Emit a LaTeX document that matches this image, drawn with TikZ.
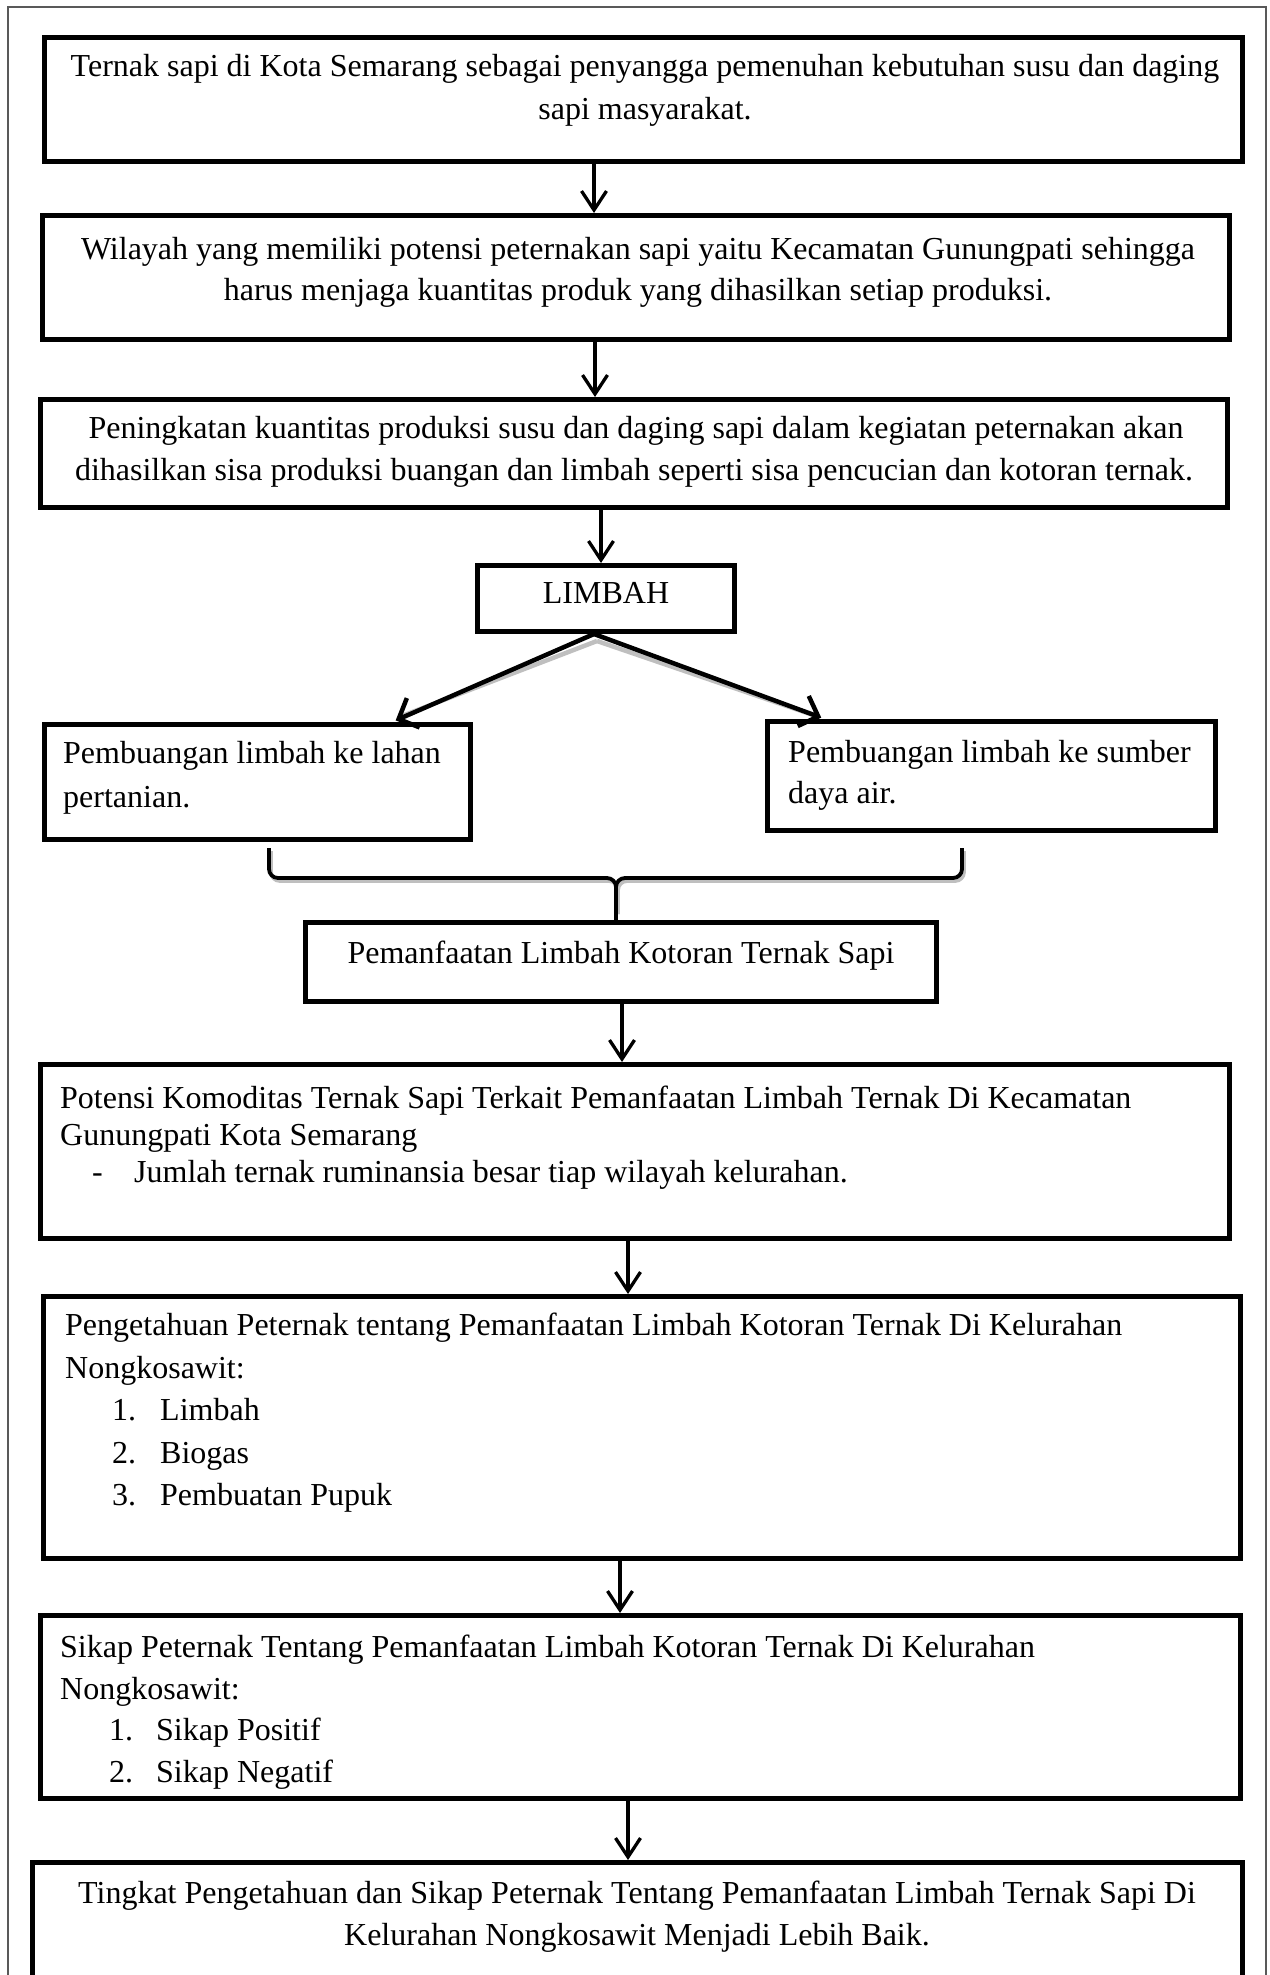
\documentclass[tikz,border=0pt]{standalone}
\usepackage{fontspec}
\setmainfont{Liberation Serif}
\usetikzlibrary{arrows.meta,calc}
\tikzset{
  box/.style={draw, line width=5pt, rectangle, inner sep=0pt, anchor=north west},
  txt/.style={inner sep=0pt, anchor=base west, font=\fontsize{32pt}{42pt}\selectfont},
  ctxt/.style={inner sep=0pt, anchor=base, font=\fontsize{32pt}{42pt}\selectfont},
  varr/.style={line width=3.3pt, -{Straight Barb[length=19pt,width=25pt]}},
  darr/.style={line width=4.5pt, -{Straight Barb[length=16pt,width=32pt]}, shorten >=4pt},
  shadowline/.style={draw=gray!50, line width=4.5pt},
  bracket/.style={line width=3.8pt, rounded corners=9pt},
}
\begin{document}
\begin{tikzpicture}[x=1pt,y=-1pt]
\useasboundingbox (0,0) rectangle (1269,1975);
\clip (0,0) rectangle (1269,1975);
\draw[gray!70!black, line width=1.5pt] (8,7) rectangle (1266,2100);

% boxes
\node[box, minimum width=1198pt, minimum height=124pt] (b1) at (42,35) {};
\node[box, minimum width=1187pt, minimum height=124pt] (b2) at (40,213) {};
\node[box, minimum width=1187pt, minimum height=108pt] (b3) at (38,397) {};
\node[box, minimum width=257pt, minimum height=66pt] (lim) at (475,563) {};
\node[box, minimum width=426pt, minimum height=115pt] (bl) at (42,722) {};
\node[box, minimum width=448pt, minimum height=109pt] (br) at (765,719) {};
\node[box, minimum width=631pt, minimum height=79pt] (b6) at (303,920) {};
\node[box, minimum width=1189pt, minimum height=174pt] (b7) at (38,1062) {};
\node[box, minimum width=1197pt, minimum height=262pt] (b8) at (41,1294) {};
\node[box, minimum width=1200pt, minimum height=183pt] (b9) at (38,1613) {};
\node[box, minimum width=1210pt, minimum height=195pt] (b10) at (30,1860) {};

% texts
\node[ctxt] (t1a) at (645,77) {Ternak sapi di Kota Semarang sebagai penyangga pemenuhan kebutuhan susu dan daging};
\node[ctxt] (t1b) at (645,119) {sapi masyarakat.};
\node[ctxt] (t2a) at (638,259) {Wilayah yang memiliki potensi peternakan sapi yaitu Kecamatan Gunungpati sehingga};
\node[ctxt] (t2b) at (638,300) {harus menjaga kuantitas produk yang dihasilkan setiap produksi.};
\node[ctxt] (t3a) at (636,438) {Peningkatan kuantitas produksi susu dan daging sapi dalam kegiatan peternakan akan};
\node[ctxt] (t3b) at (634,480) {dihasilkan sisa produksi buangan dan limbah seperti sisa pencucian dan kotoran ternak.};
\node[ctxt] (tlim) at (606,603) {LIMBAH};
\node[txt] (tla) at (63,763) {Pembuangan limbah ke lahan};
\node[txt] (tlb) at (63,807) {pertanian.};
\node[txt] (tra) at (788,762) {Pembuangan limbah ke sumber};
\node[txt] (trb) at (788,803) {daya air.};
\node[ctxt] (t6) at (621,963) {Pemanfaatan Limbah Kotoran Ternak Sapi};
\node[txt] (t7a) at (60,1108) {Potensi Komoditas Ternak Sapi Terkait Pemanfaatan Limbah Ternak Di Kecamatan};
\node[txt] (t7b) at (60,1145) {Gunungpati Kota Semarang};
\node[txt] (t7c) at (92,1182) {-};
\node[txt] (t7d) at (134,1182) {Jumlah ternak ruminansia besar tiap wilayah kelurahan.};
\node[txt] (t8a) at (65,1335) {Pengetahuan Peternak tentang Pemanfaatan Limbah Kotoran Ternak Di Kelurahan};
\node[txt] (t8b) at (65,1378) {Nongkosawit:};
\node[txt] (t8c) at (112,1420) {1.};
\node[txt] (t8d) at (160,1420) {Limbah};
\node[txt] (t8e) at (112,1463) {2.};
\node[txt] (t8f) at (160,1463) {Biogas};
\node[txt] (t8g) at (112,1505) {3.};
\node[txt] (t8h) at (160,1505) {Pembuatan Pupuk};
\node[txt] (t9a) at (60,1657) {Sikap Peternak Tentang Pemanfaatan Limbah Kotoran Ternak Di Kelurahan};
\node[txt] (t9b) at (60,1699) {Nongkosawit:};
\node[txt] (t9c) at (109,1740) {1.};
\node[txt] (t9d) at (156,1740) {Sikap Positif};
\node[txt] (t9e) at (109,1782) {2.};
\node[txt] (t9f) at (156,1782) {Sikap Negatif};
\node[ctxt] (t10a) at (637,1903) {Tingkat Pengetahuan dan Sikap Peternak Tentang Pemanfaatan Limbah Ternak Sapi Di};
\node[ctxt] (t10b) at (637,1945) {Kelurahan Nongkosawit Menjadi Lebih Baik.};

% vertical arrows
\draw[varr] (b1.south -| 594,0) -- (b2.north -| 594,0);
\draw[varr] (b2.south -| 595,0) -- (b3.north -| 595,0);
\draw[varr] (b3.south -| 601,0) -- (lim.north -| 601,0);
\draw[varr] (b6.south -| 622,0) -- (b7.north -| 622,0);
\draw[varr] (b7.south -| 628,0) -- (b8.north -| 628,0);
\draw[varr] (b8.south -| 620,0) -- (b9.north -| 620,0);
\draw[varr] (b9.south -| 628,0) -- (b10.north -| 628,0);

% diagonal arrows with shadow
\draw[shadowline] (597,641) -- (402,716);
\draw[shadowline] (597,641) -- (816,716);
\draw[darr] (lim.south -| 594,0) -- (bl.north -| 392,0);
\draw[darr] (lim.south -| 594,0) -- (br.north -| 825,0);

% bracket joining the two branches
\draw[bracket, draw=gray!50] (271,851) -- (271,881) -- (618,881) -- (618,914);
\draw[bracket, draw=gray!50] (964,851) -- (964,881) -- (618,881) -- (618,914);
\draw[bracket] (269,848) -- (269,878) -- (616,878) -- (b6.north -| 616,0);
\draw[bracket] (962,848) -- (962,878) -- (616,878) -- (b6.north -| 616,0);
\end{tikzpicture}
\end{document}
